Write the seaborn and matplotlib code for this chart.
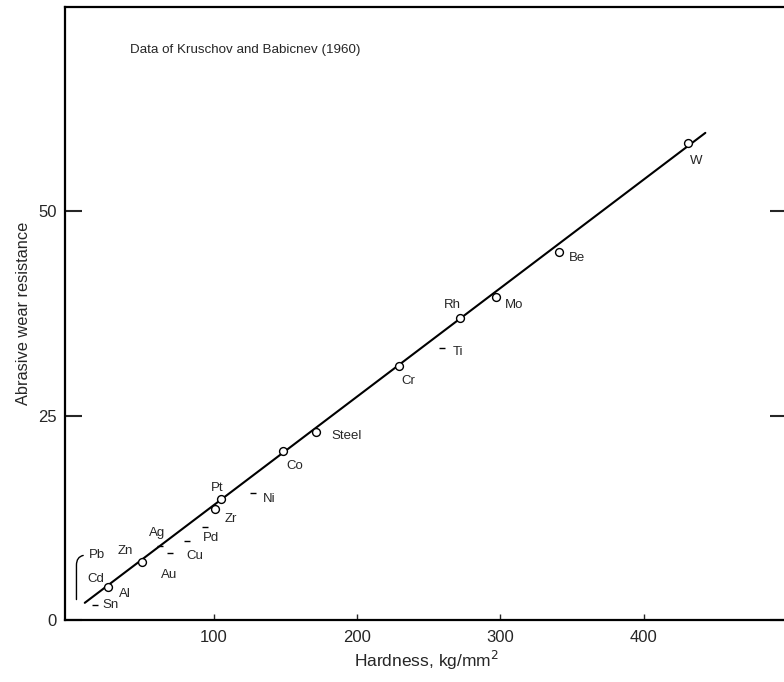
import numpy as np
import pandas as pd
import matplotlib
matplotlib.use('Agg')
import matplotlib.pyplot as plt
import seaborn as sns

# metals: hardness (kg/mm2) vs relative abrasive wear resistance
metals = ['Pb', 'Cd', 'Sn', 'Al', 'Zn', 'Ag', 'Au', 'Cu', 'Pd', 'Zr', 'Pt', 'Ni',
          'Co', 'Steel', 'Cr', 'Ti', 'Rh', 'Mo', 'Be', 'W']
hardness = [4, 9, 17, 26, 50, 62, 69, 81, 94, 101, 105, 127,
            148, 171, 229, 259, 272, 297, 341, 431]
wear = [2.5, 2.0, 1.8, 4.0, 7.1, 9.1, 8.2, 9.7, 11.4, 13.6, 14.8, 15.5,
        20.7, 23.0, 31.1, 33.3, 37.0, 39.5, 45.0, 58.4]
on_line = [False, False, False, True, True, False, False, False, False, True, True, False,
           True, True, True, False, True, True, True, True]

# fitted straight line end points
line_h = [9.8, 443]
line_w = [2.1, 59.6]

# label offsets (points) from each marker
label_dx = [0, 9, 11, 12, -12, -2, 0, 6, 4, 11, -3, 12, 9, 22, 7, 12, -6, 13, 13, 6]
label_dy = [0, 18, 0, -5, 8, 9, -16, -11, -8, -7, 8, -4, -11, -3, -11, -3, 9, -6, -4, -13]

df = pd.DataFrame({'metal': metals, 'hardness': hardness, 'wear': wear, 'on_line': on_line})
line_df = pd.DataFrame({'hardness': line_h, 'wear': line_w})

sns.set_style('ticks')
plt.rcParams['font.family'] = ['Liberation Sans', 'DejaVu Sans']

fig = plt.figure(figsize=(7.84, 6.82), dpi=100)
ax = fig.add_axes([65 / 784, 62 / 682, 722 / 784, 613 / 682])

sns.lineplot(data=line_df, x='hardness', y='wear', color='black', linewidth=1.5, ax=ax, zorder=2)
sns.scatterplot(data=df[df['on_line']], x='hardness', y='wear', marker='o', s=32,
                facecolor='white', edgecolor='black', linewidth=1.0, ax=ax, zorder=3)
sns.scatterplot(data=df[~df['on_line'] & (df['metal'] != 'Pb') & (df['metal'] != 'Cd')],
                x='hardness', y='wear', marker='_', s=25, color='black', linewidth=1.0,
                ax=ax, zorder=3)

for i, m in enumerate(metals):
    if m == 'Pb':
        ax.annotate(m, xy=(hardness[i], wear[i]), xytext=(15, 32), textcoords='offset points',
                    fontsize=9.5, ha='center', va='center',
                    arrowprops=dict(arrowstyle='-', color='black', lw=1.0, shrinkA=2, shrinkB=0,
                                    connectionstyle='angle,angleA=0,angleB=90,rad=10'))
        continue
    ax.annotate(m, xy=(hardness[i], wear[i]), xytext=(label_dx[i], label_dy[i]),
                textcoords='offset points', fontsize=9.5, ha='center', va='center')

ax.text(0.09, 0.93, 'Data of Kruschov and Babicnev (1960)', transform=ax.transAxes,
        fontsize=9.6, ha='left', va='center')

ax.set_xlim(-4, 500)
ax.set_ylim(0, 75)
ax.set_xticks([100, 200, 300, 400])
ax.set_yticks([0, 25, 50])
ax.tick_params(axis='x', direction='in', length=4, width=1, labelsize=12, pad=7)
ax.tick_params(axis='y', direction='in', length=12, width=1.5, labelsize=12, pad=6,
               right=True)
ax.set_xlabel('Hardness, kg/mm$^2$', fontsize=12.5, labelpad=3)
ax.set_ylabel('Abrasive wear resistance', fontsize=11.8, labelpad=5)
for side in ['left', 'bottom', 'top', 'right']:
    ax.spines[side].set_visible(True)
    ax.spines[side].set_linewidth(1.6)
    ax.spines[side].set_color('black')

fig.savefig('out.png', dpi=100)
